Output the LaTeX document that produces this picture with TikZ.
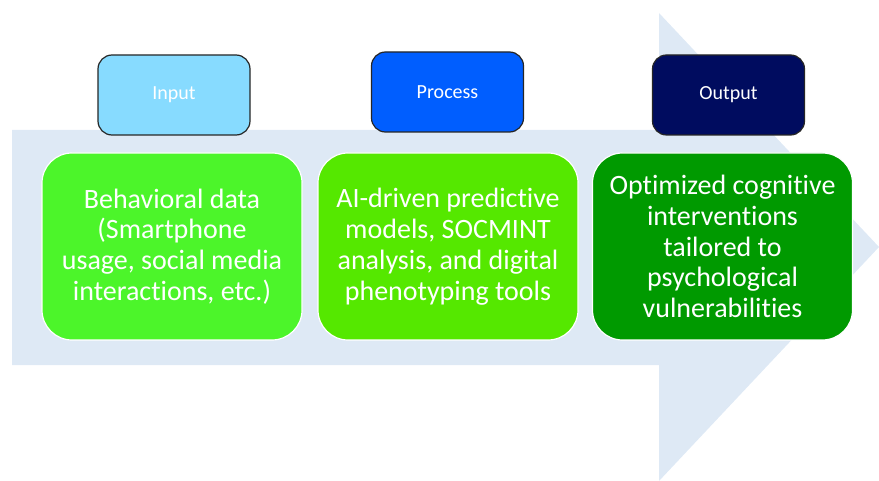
\documentclass[tikz,border=0pt]{standalone}
\usepackage{fontspec}
\setmainfont[Ligatures=NoCommon]{Carlito}
\usetikzlibrary{positioning}

\definecolor{arrowbg}{HTML}{DEE9F5}
\definecolor{inblue}{HTML}{87DBFF}
\definecolor{procblue}{HTML}{005EFF}
\definecolor{outblue}{HTML}{000C5F}
\definecolor{ingreen}{HTML}{4CF52A}
\definecolor{procgreen}{HTML}{55E800}
\definecolor{outgreen}{HTML}{009A00}

\tikzset{
  headbox/.style={draw=black!85, line width=1.2pt, rounded corners=14pt,
                  minimum width=152pt, minimum height=80pt, text=white,
                  font=\fontsize{20}{24}\selectfont},
  databox/.style={draw=white, line width=1.2pt, rounded corners=30pt,
                  minimum width=260pt, minimum height=187pt, text=white,
                  align=center, inner sep=1pt, font=\fontsize{28}{30.8}\selectfont}
}

\begin{document}
\begin{tikzpicture}[x=1pt,y=-1pt]

  \useasboundingbox (0,0) rectangle (879,481);

  % background arrow
  \fill[arrowbg] (12,130) -- (659,130) -- (659,13) -- (879,247)
                 -- (659,481) -- (659,365) -- (12,365) -- cycle;

  % data boxes
  \node[databox, fill=ingreen]   (d1) at (172,246.5)
       {Behavioral data\\(Smartphone\\usage, social media\\interactions, etc.)};
  \node[databox, fill=procgreen] (d2) at (448,246.5)
       {AI-driven predictive\\models, SOCMINT\\analysis, and digital\\phenotyping tools};
  \node[databox, fill=outgreen]  (d3) at (722.5,246.5)
       {Optimized cognitive\\interventions\\tailored to\\psychological\\vulnerabilities};

  % headers
  \node[headbox, fill=inblue]   (h1) at (174,95)    {Input};
  \node[headbox, fill=procblue] (h2) at (447.5,92)  {Process};
  \node[headbox, fill=outblue]  (h3) at (728.5,95)  {Output};

\end{tikzpicture}
\end{document}
